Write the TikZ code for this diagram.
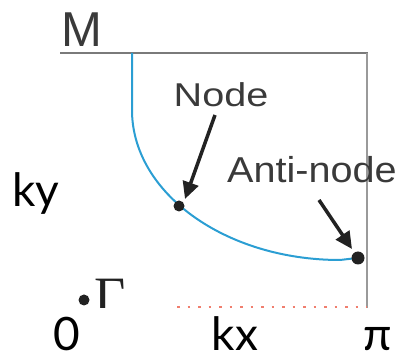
\documentclass[tikz,border=0pt]{standalone}
\usepackage{fontspec}
\setmainfont{Liberation Sans}
\newfontfamily\labfont{Lato}
\newfontfamily\grfont{Liberation Serif}
\usetikzlibrary{arrows.meta}
\definecolor{curveblue}{HTML}{2B9ED3}
\definecolor{frameg}{HTML}{7A7A7A}
\definecolor{frameg2}{HTML}{9A9A9A}
\definecolor{txtg}{HTML}{3A3A3A}
\definecolor{dotred}{HTML}{F07E6E}
\definecolor{arrowk}{HTML}{222222}
\tikzset{
  lbl/.style={inner sep=0pt, anchor=base, text=txtg},
  axlbl/.style={inner sep=0pt, anchor=base, text=black, font=\labfont\fontsize{46}{46}\selectfont},
  kdot/.style={circle, fill=arrowk, inner sep=0pt, minimum size=#1},
  pointer/.style={draw=arrowk, line width=3.5pt, -{Triangle[length=17pt,width=16pt]}},
}
\begin{document}
\begin{tikzpicture}[x=1pt,y=-1pt]
\useasboundingbox (0,0) rectangle (400,361);
% frame
\draw[frameg, line width=2.5pt] (60,53) -- (368,53);
\draw[frameg2, line width=2pt] (367,53) -- (367,308);
% red dotted line
\draw[dotred, line width=2pt, dash pattern=on 2.5pt off 8pt] (177,307) -- (367,307);
% blue Fermi surface
\coordinate (ctop) at (132,53);
\draw[curveblue, line width=2pt] (ctop) -- (132,110) arc[start angle=180, end angle=90, x radius=208, y radius=150] -- (357,258);
% dots
\node[kdot=11pt] (dnode) at (179,206) {};
\node[kdot=13pt] (danti) at (358,258) {};
\node[kdot=11pt] (dgamma) at (84,300) {};
% labels
\node[lbl, font=\fontsize{49}{49}\selectfont] (M) at (82,47) {M};
\node[lbl, font=\fontsize{33}{33}\selectfont, xscale=1.2] (lnode) at (221,107) {Node};
\node[lbl, font=\fontsize{36}{36}\selectfont, xscale=1.1] (lanti) at (312,183) {Anti-node};
\begin{scope}
\clip (90,250) rectangle (140,308);
\node[lbl, text=arrowk, font={\grfont\fontsize{54}{54}\selectfont}, anchor=base west] (gam) at (94,315) {Γ};
\end{scope}
\node[axlbl] (ky) at (36,207) {ky};
\node[axlbl] (zero) at (67,351) {0};
\node[axlbl] (kx) at (235,351) {kx};
\node[axlbl] (pi) at (378,351) {π};
% arrows
\coordinate (anode) at (215,115);
\coordinate (aanti) at (319,200);
\draw[pointer] (anode) -- (185,199);
\draw[pointer] (aanti) -- (352,249);
\end{tikzpicture}
\end{document}
